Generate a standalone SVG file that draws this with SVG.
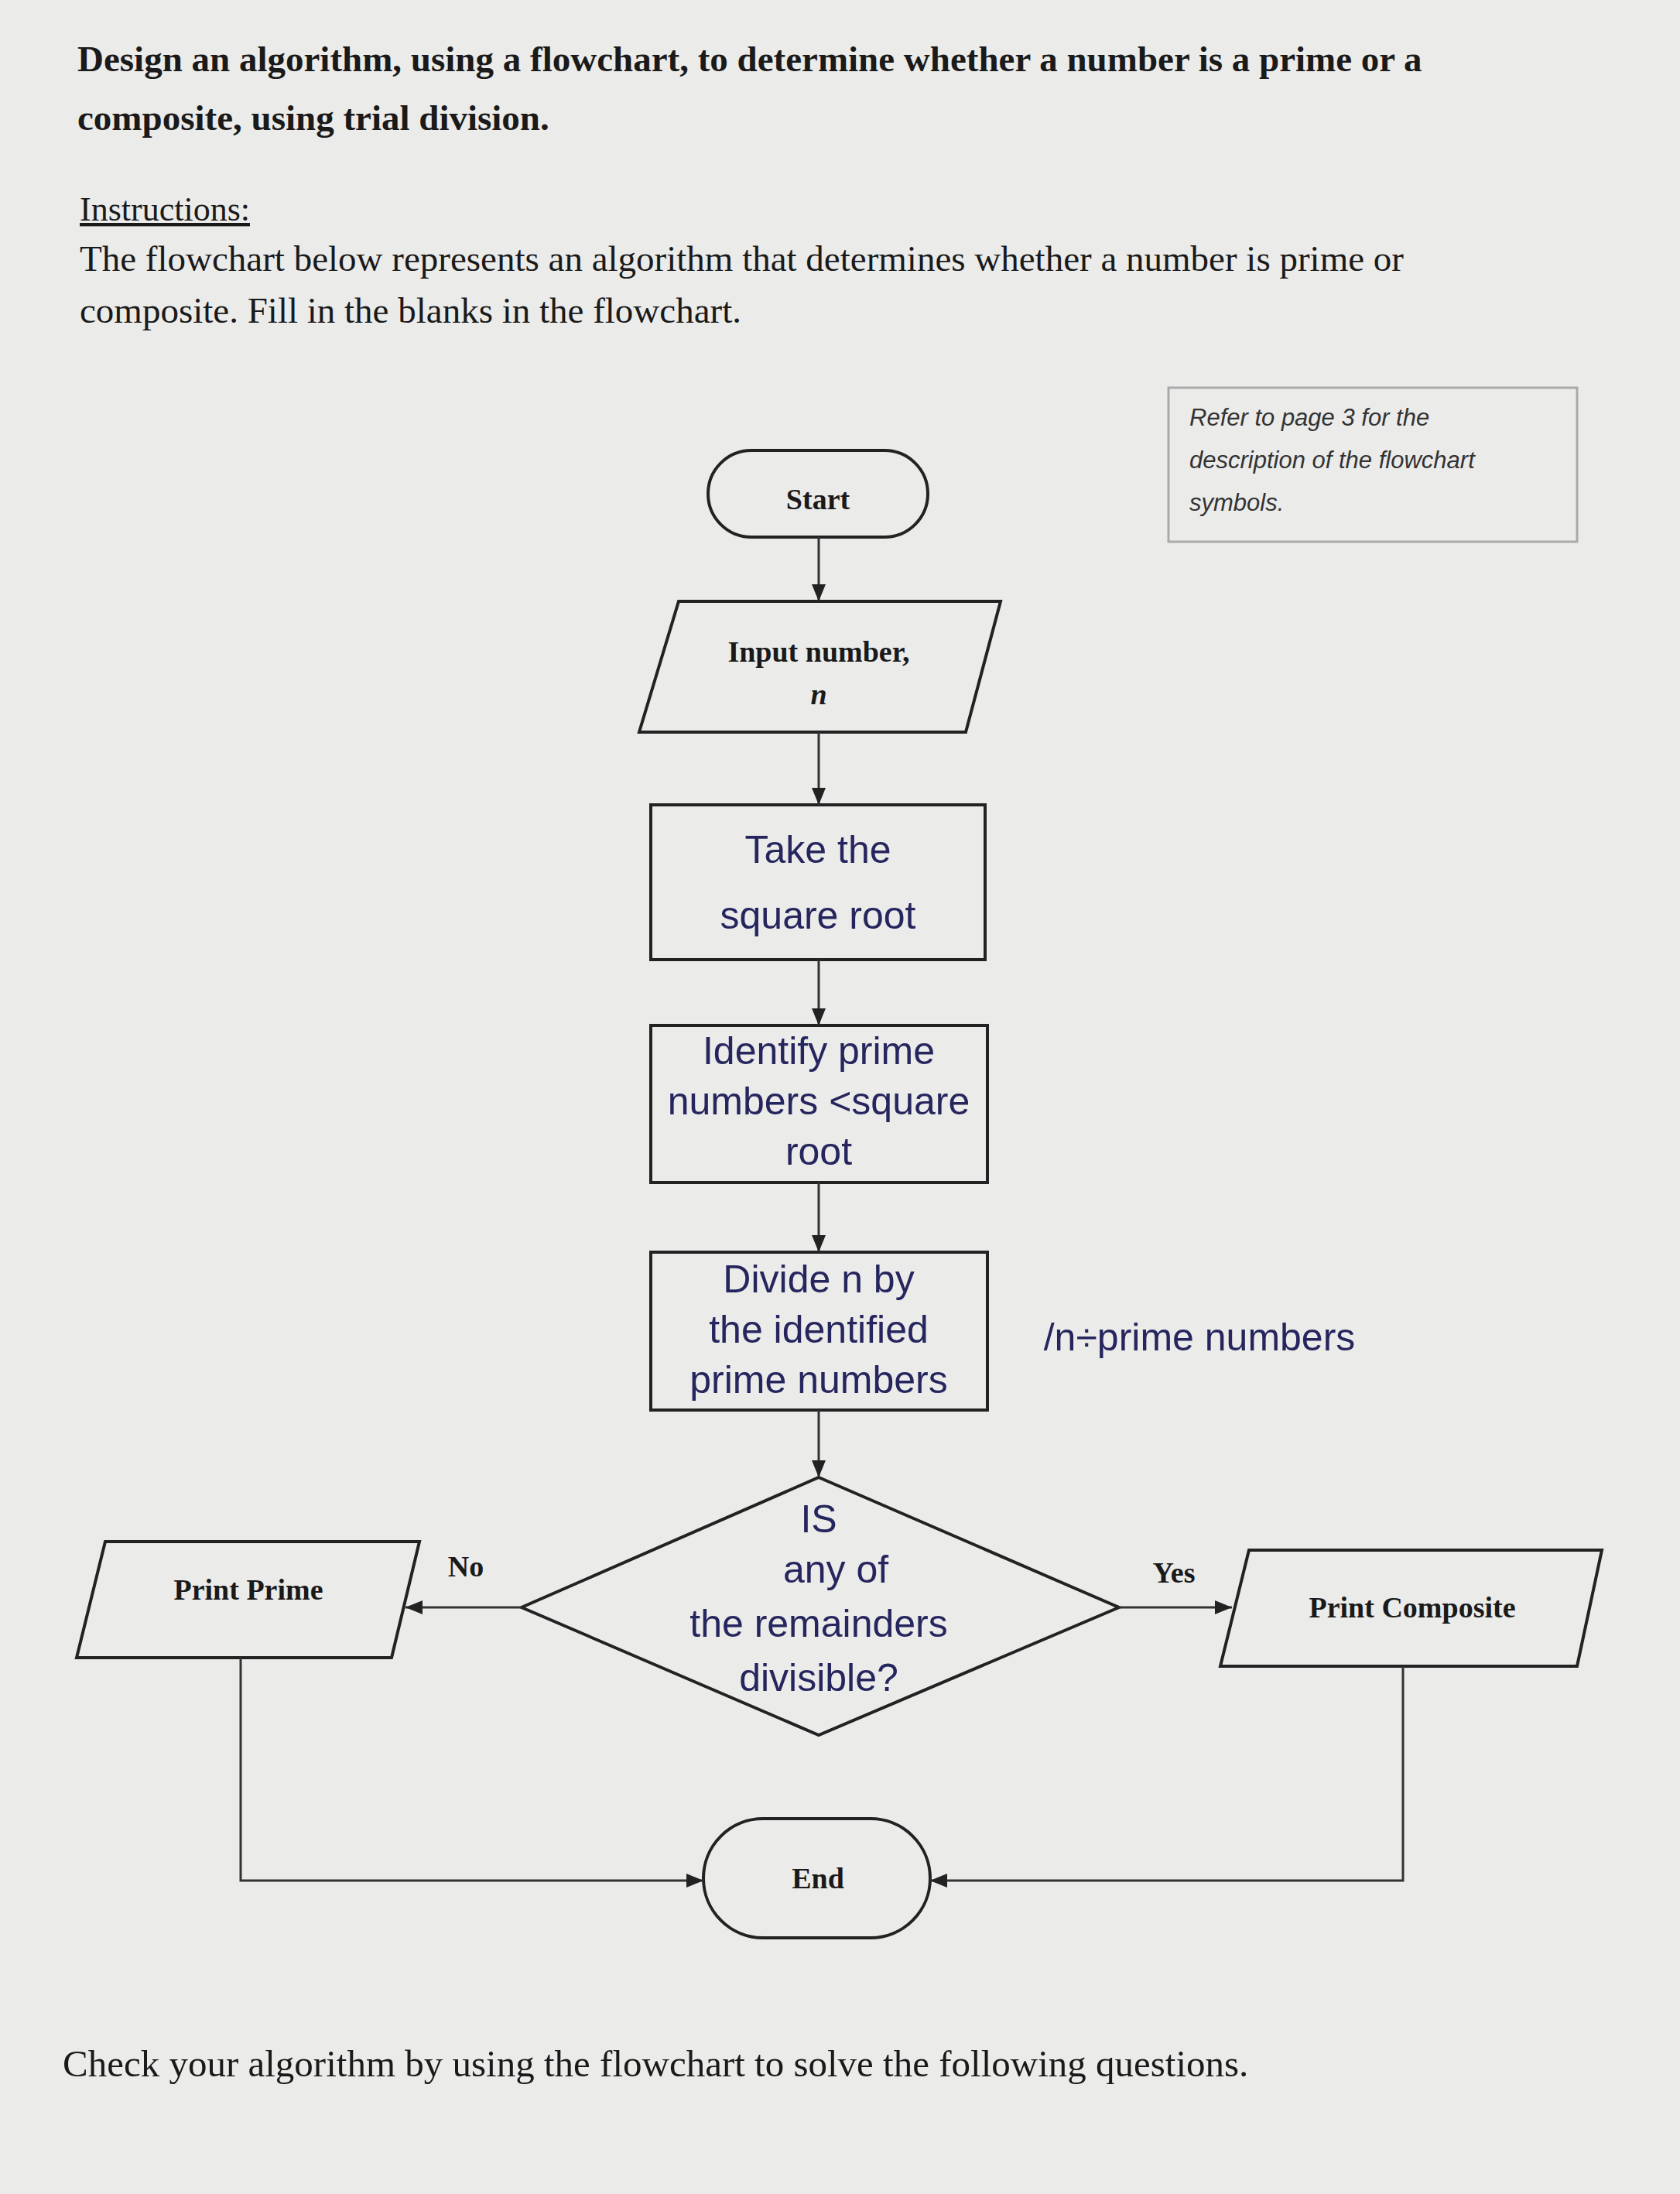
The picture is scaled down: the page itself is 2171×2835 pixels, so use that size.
<svg xmlns="http://www.w3.org/2000/svg" width="2171" height="2835" viewBox="0 0 2171 2835">
<style>
.t{font-family:"Liberation Serif",serif;fill:#1a1a1a}
.b{font-weight:bold}
.n{font-family:"Liberation Serif",serif;font-weight:bold;font-size:38px;fill:#1a1a1a;text-anchor:middle}
.h{font-family:"Liberation Sans",sans-serif;font-size:50px;fill:#26265e;text-anchor:middle}
.s{fill:none;stroke:#222;stroke-width:4}
.c{fill:none;stroke:#333;stroke-width:3}
</style>
<defs><marker id="A" markerWidth="22" markerHeight="18" refX="22" refY="9" orient="auto" markerUnits="userSpaceOnUse"><path d="M0,0L22,9L0,18z" fill="#222"/></marker></defs>
<rect width="2171" height="2835" fill="#ebebea"/>
<text class="t b" x="100" y="92" font-size="47">Design an algorithm, using a flowchart, to determine whether a number is a prime or a</text>
<text class="t b" x="100" y="168" font-size="47">composite, using trial division.</text>
<text class="t" x="103" y="285" font-size="44" text-decoration="underline">Instructions:</text>
<text class="t" x="103" y="350" font-size="47">The flowchart below represents an algorithm that determines whether a number is prime or</text>
<text class="t" x="103" y="417" font-size="47">composite. Fill in the blanks in the flowchart.</text>
<g id="note"><rect x="1510" y="501" width="528" height="199" fill="none" stroke="#aaa" stroke-width="3"/>
<text font-family="Liberation Sans,sans-serif" font-style="italic" font-size="31" fill="#333"><tspan x="1537" y="550">Refer  to  page  3  for  the</tspan><tspan x="1537" y="605">description of the flowchart</tspan><tspan x="1537" y="660">symbols.</tspan></text></g>
<g id="start"><rect class="s" x="915" y="582" width="284" height="112" rx="56"/><text class="n" x="1057" y="658">Start</text></g>
<g id="input"><polygon class="s" points="877,777 1293,777 1248,946 826,946"/><text class="n" x="1058" y="855">Input number,</text><text class="n" x="1058" y="910" font-style="italic" font-size="30">n</text></g>
<g id="sqrt"><rect class="s" x="841" y="1040" width="432" height="200"/><text class="h"><tspan x="1057" y="1115">Take the</tspan><tspan x="1057" y="1200">square root</tspan></text></g>
<g id="identify"><rect class="s" x="841" y="1325" width="435" height="203"/><text class="h" font-size="46"><tspan x="1058" y="1375">Identify prime</tspan><tspan x="1058" y="1440">numbers &lt;square</tspan><tspan x="1058" y="1505">root</tspan></text></g>
<g id="divide"><rect class="s" x="841" y="1618" width="435" height="204"/><text class="h" font-size="46"><tspan x="1058" y="1670">Divide    n by</tspan><tspan x="1058" y="1735">the identified</tspan><tspan x="1058" y="1800">prime numbers</tspan></text></g>
<text class="h" x="1550" y="1745" font-size="50">/n÷prime numbers</text>
<g id="decision"><polygon class="s" points="1058,1909 1446,2077 1058,2242 674,2077"/><text class="h" font-size="44"><tspan x="1058" y="1980">IS</tspan><tspan x="1080" y="2045">any of</tspan><tspan x="1058" y="2115">the remainders</tspan><tspan x="1058" y="2185">divisible?</tspan></text></g>
<g id="prime"><polygon class="s" points="136,1992 542,1992 506,2142 99,2142"/><text class="n" x="321" y="2067">Print Prime</text></g>
<g id="composite"><polygon class="s" points="1614,2003 2070,2003 2038,2153 1577,2153"/><text class="n" x="1825" y="2090">Print Composite</text></g>
<g id="end"><rect class="s" x="909" y="2350" width="293" height="154" rx="77"/><text class="n" x="1057" y="2440">End</text></g>
<text class="n" x="602" y="2037">No</text><text class="n" x="1517" y="2045">Yes</text>
<g id="connectors">
<line class="c" x1="1058" y1="694" x2="1058" y2="777" marker-end="url(#A)"/>
<line class="c" x1="1058" y1="946" x2="1058" y2="1040" marker-end="url(#A)"/>
<line class="c" x1="1058" y1="1240" x2="1058" y2="1325" marker-end="url(#A)"/>
<line class="c" x1="1058" y1="1528" x2="1058" y2="1618" marker-end="url(#A)"/>
<line class="c" x1="1058" y1="1822" x2="1058" y2="1909" marker-end="url(#A)"/>
<line class="c" x1="674" y1="2077" x2="524" y2="2077" marker-end="url(#A)"/>
<line class="c" x1="1446" y1="2077" x2="1592" y2="2077" marker-end="url(#A)"/>
<polyline class="c" points="311,2142 311,2430 909,2430" marker-end="url(#A)"/>
<polyline class="c" points="1813,2153 1813,2430 1202,2430" marker-end="url(#A)"/>
</g>
<text class="t" x="81" y="2683" font-size="49">Check your algorithm by using the flowchart to solve the following questions.</text>
</svg>
